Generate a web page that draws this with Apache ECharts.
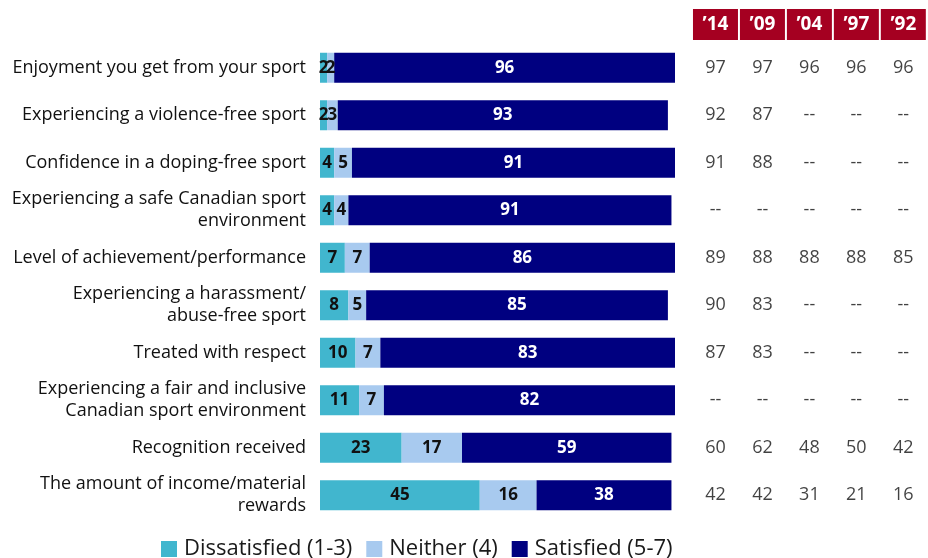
<!DOCTYPE html>
<html>
<head>
<meta charset="utf-8">
<script src="https://cdn.jsdelivr.net/npm/echarts@6/dist/echarts.min.js"></script>
<style>
  html, body { margin: 0; padding: 0; background: #fff; }
  #chart { width: 928px; height: 558px; }
</style>
</head>
<body>
<div id="chart"></div>
<script>
// Satisfaction items (top to bottom)
const categories = [
  'Enjoyment you get from your sport',
  'Experiencing a violence-free sport',
  'Confidence in a doping-free sport',
  'Experiencing a safe Canadian sport\nenvironment',
  'Level of achievement/performance',
  'Experiencing a harassment/\nabuse-free sport',
  'Treated with respect',
  'Experiencing a fair and inclusive\nCanadian sport environment',
  'Recognition received',
  'The amount of income/material\nrewards'
];

// Current survey shares (%)
const dissatisfied = [2, 2, 4, 4, 7, 8, 10, 11, 23, 45];
const neither      = [2, 3, 5, 4, 7, 5, 7, 7, 17, 16];
const satisfied    = [96, 93, 91, 91, 86, 85, 83, 82, 59, 38];

// Earlier survey years: % satisfied (null = not asked)
const years = ['\u201914', '\u201909', '\u201904', '\u201997', '\u201992'];
const y14 = [97, 92, 91, null, 89, 90, 87, null, 60, 42];
const y09 = [97, 87, 88, null, 88, 83, 83, null, 62, 42];
const y04 = [96, null, null, null, 88, null, null, null, 48, 31];
const y97 = [96, null, null, null, 88, null, null, null, 50, 21];
const y92 = [96, null, null, null, 85, null, null, null, 42, 16];
const history = [y14, y09, y04, y97, y92];

const FONT = 'Open Sans';

const tableData = [];
history.forEach((col, ci) => {
  col.forEach((v, ri) => tableData.push([ci, ri, v]));
});

const barLabel = (color) => ({
  show: true,
  position: 'inside',
  color: color,
  fontFamily: FONT,
  fontWeight: 'bold',
  fontSize: 17
});

const chart = echarts.init(document.getElementById('chart'), null, { renderer: 'canvas' });

chart.setOption({
  animation: false,
  textStyle: { fontFamily: FONT },
  legend: {
    top: 538,
    left: 161,
    padding: 0,
    itemWidth: 16,
    itemHeight: 16,
    itemGap: 14,
    icon: 'rect',
    textStyle: { fontFamily: FONT, fontSize: 22, color: '#1a1a1a', padding: [0, 0, 0, 2] },
    data: ['Dissatisfied (1-3)', 'Neither (4)', 'Satisfied (5-7)']
  },
  grid: [
    { left: 320, top: 44, width: 355, height: 475 },
    { left: 692, top: 44, width: 243, height: 475 }
  ],
  xAxis: [
    { gridIndex: 0, type: 'value', min: 0, max: 100, show: false },
    {
      gridIndex: 1, type: 'category', data: years, position: 'top',
      axisLine: { show: false }, axisTick: { show: false },
      axisLabel: {
        margin: 4,
        color: '#fff', fontFamily: FONT, fontWeight: 'bold', fontSize: 19,
        backgroundColor: '#A50021',
        width: 45, height: 31, lineHeight: 31, align: 'center'
      }
    }
  ],
  yAxis: [
    {
      gridIndex: 0, type: 'category', data: categories, inverse: true,
      axisLine: { show: false }, axisTick: { show: false },
      axisLabel: {
        margin: 14, color: '#111', fontFamily: FONT, fontSize: 18,
        lineHeight: 22, align: 'right'
      }
    },
    {
      gridIndex: 1, type: 'category', data: categories, inverse: true, show: false
    }
  ],
  series: [
    {
      name: 'Dissatisfied (1-3)', type: 'bar', stack: 'all', barWidth: 30,
      xAxisIndex: 0, yAxisIndex: 0,
      itemStyle: { color: '#41B6CE' },
      label: barLabel('#111'),
      data: dissatisfied
    },
    {
      name: 'Neither (4)', type: 'bar', stack: 'all', barWidth: 30,
      xAxisIndex: 0, yAxisIndex: 0,
      itemStyle: { color: '#A8CAEF' },
      label: barLabel('#111'),
      data: neither
    },
    {
      name: 'Satisfied (5-7)', type: 'bar', stack: 'all', barWidth: 30,
      xAxisIndex: 0, yAxisIndex: 0,
      itemStyle: { color: '#000080' },
      label: barLabel('#fff'),
      data: satisfied
    },
    {
      name: 'history', type: 'scatter', xAxisIndex: 1, yAxisIndex: 1,
      symbolSize: 0, silent: true,
      label: {
        show: true, position: 'inside', color: '#111',
        fontFamily: FONT, fontSize: 18,
        formatter: (p) => (p.value[2] == null ? '--' : String(p.value[2]))
      },
      data: tableData.map(d => [d[0], d[1], d[2]])
    }
  ]
});
</script>
</body>
</html>
